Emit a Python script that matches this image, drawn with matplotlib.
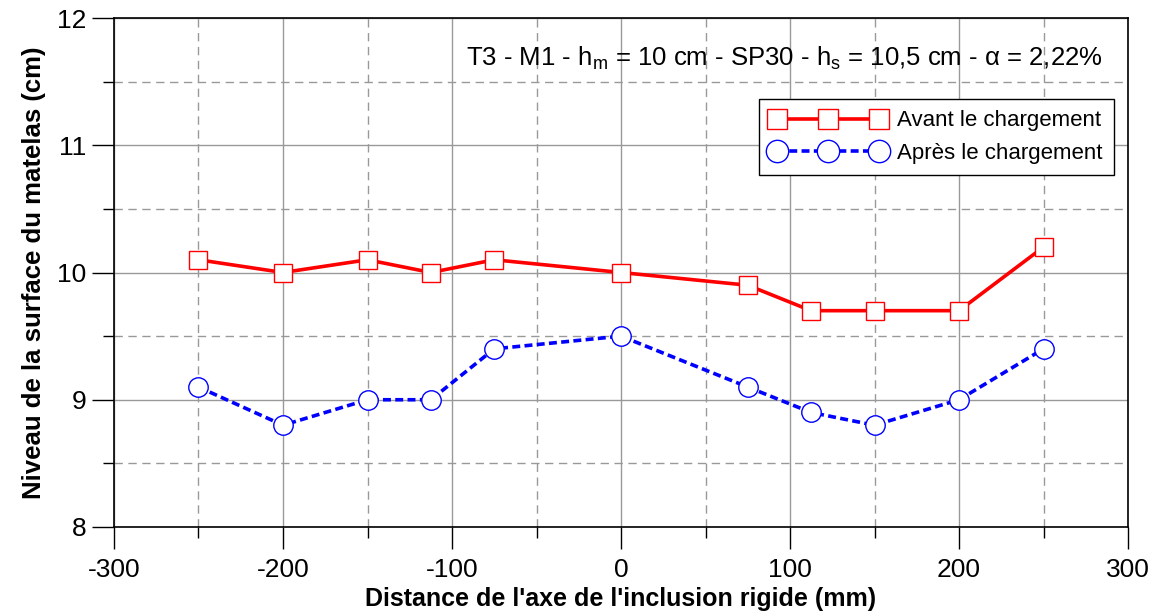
import numpy as np
import matplotlib.pyplot as plt
from matplotlib.ticker import MultipleLocator

plt.rcParams['font.family'] = ['Liberation Sans Narrow', 'Liberation Sans', 'DejaVu Sans']
plt.rcParams['axes.unicode_minus'] = False

distance = [-250, -200, -150, -112.5, -75, 0, 75, 112.5, 150, 200, 250]
avant = [10.1, 10.0, 10.1, 10.0, 10.1, 10.0, 9.9, 9.7, 9.7, 9.7, 10.2]
apres = [9.1, 8.8, 9.0, 9.0, 9.4, 9.5, 9.1, 8.9, 8.8, 9.0, 9.4]

fig = plt.figure(figsize=(11.6, 6.16), dpi=100)
ax = fig.add_axes([114/1160, 1-527/616, (1128-114)/1160, (527-18)/616])

ax.plot(distance, avant, color='#ff0000', lw=2.6, marker='s', ms=13,
        mfc='white', mec='#ff0000', mew=1.0, label='Avant le chargement', zorder=3)
ax.plot(distance, apres, color='#0000ff', lw=2.6, ls=(0, (2.2, 1.2)), marker='o', ms=14,
        mfc='white', mec='#0000ff', mew=1.0, label='Après le chargement', zorder=3)

ax.set_xlim(-300, 300)
ax.set_ylim(8, 12)
ax.xaxis.set_major_locator(MultipleLocator(100))
ax.xaxis.set_minor_locator(MultipleLocator(50))
ax.yaxis.set_major_locator(MultipleLocator(1))
ax.yaxis.set_minor_locator(MultipleLocator(0.5))
ax.grid(which='major', color='#999999', lw=1.0, ls='-')
ax.grid(which='minor', color='#999999', lw=1.0, ls=(0, (6, 4)))
ax.tick_params(which='major', direction='out', length=16, width=1, labelsize=19, pad=6)
ax.tick_params(which='minor', direction='out', length=8, width=1)
ax.tick_params(axis='y', which='major', pad=4)
for s in ax.spines.values():
    s.set_linewidth(1.2)

ax.set_xlabel("Distance de l'axe de l'inclusion rigide (mm)", fontsize=18, fontweight='bold', labelpad=4)
ax.set_ylabel("Niveau de la surface du matelas (cm)", fontsize=18.5, fontweight='bold', labelpad=8)

ax.text(0.975, 0.92, r'T3 - M1 - h$_\mathregular{m}$ = 10 cm - SP30 - h$_\mathregular{s}$ = 10,5 cm - α = 2,22%',
        transform=ax.transAxes, ha='right', va='center', fontsize=18.5)

leg = ax.legend(loc='upper right', bbox_to_anchor=(0.997, 0.862), fontsize=16,
                numpoints=3, handlelength=5.2, frameon=True, fancybox=False,
                edgecolor='black', framealpha=1, borderpad=0.5, labelspacing=0.5,
                handletextpad=0.5, markerscale=1.15)
leg.get_frame().set_linewidth(1.0)

fig.savefig('out.png', dpi=100)
